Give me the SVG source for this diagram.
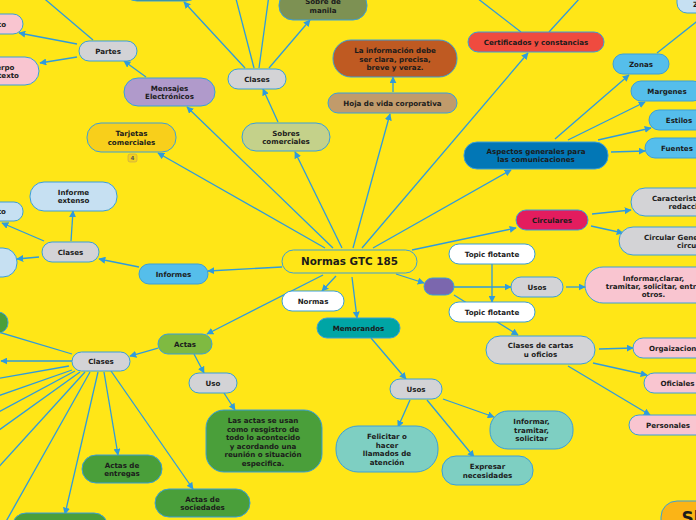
<svg xmlns="http://www.w3.org/2000/svg" width="696" height="520" viewBox="0 0 696 520">
<defs>
<marker id="a" viewBox="0 0 10 10" refX="9" refY="5" markerWidth="7" markerHeight="7" markerUnits="userSpaceOnUse" orient="auto">
<path d="M0,0 L10,5 L0,10 z" fill="#2F9BDC"/>
</marker>
<style>
.c{fill:none;stroke:#2F9BDC;stroke-width:1.3;marker-end:url(#a)}
.l{fill:none;stroke:#2F9BDC;stroke-width:1.3}
rect{stroke:#3A9FDA;stroke-width:1}
text{font-family:"DejaVu Sans",Verdana,sans-serif;font-weight:bold;font-size:7.1px;fill:#1b1b1b;text-anchor:middle}
.e{text-anchor:end}
.s{text-anchor:start}
.g{fill:#D3D3D6}
.pk{fill:#F9C5D0}
.lb{fill:#55BEEB}
.vb{fill:#C6E0F2}
.dg{fill:#4A9F3A}
.tl{fill:#7ECFC2}
.w{fill:#FFFFFF}
</style>
</defs>
<rect x="0" y="0" width="696" height="520" fill="#FFE617" style="stroke:none"/>
<g id="connectors">
<path class="c" d="M325,248 L158,153"/>
<path class="c" d="M333,248 L187,107"/>
<path class="c" d="M342,248 L295,152"/>
<path class="c" d="M353,248 L390,114"/>
<path class="c" d="M362,248 L528,53"/>
<path class="c" d="M373,248 L511,170"/>
<path class="c" d="M412,250 L516,228"/>
<path class="c" d="M396,274 L424,283"/>
<path class="c" d="M352,277 L357,318"/>
<path class="c" d="M336,276 L322,291"/>
<path class="c" d="M323,275 L207,334"/>
<path class="c" d="M282,267 L208,271"/>
<path class="c" d="M139,267 L99,259"/>
<path class="c" d="M71,241 L73,211"/>
<path class="c" d="M44,241 L2,223"/>
<path class="c" d="M39,257 L17,259"/>
<path class="c" d="M146,77 L124,61"/>
<path class="c" d="M77,44 L19,33"/>
<path class="c" d="M77,57 L40,63"/>
<path class="l" d="M93,40 L40,-5"/>
<path class="c" d="M278,122 L263,89"/>
<path class="c" d="M269,68 L310,20"/>
<path class="l" d="M254,68 L235,-5"/>
<path class="l" d="M259,68 L269,-5"/>
<path class="c" d="M245,68 L184,2"/>
<path class="c" d="M393,92 L393,77"/>
<path class="l" d="M521,32 L477,-2"/>
<path class="l" d="M549,32 L580,-2"/>
<path class="c" d="M555,139 L629,75"/>
<path class="c" d="M568,140 L645,102"/>
<path class="c" d="M598,140 L651,128"/>
<path class="c" d="M611,152 L645,151"/>
<path class="l" d="M657,53 L700,19"/>
<path class="c" d="M592,214 L631,210"/>
<path class="c" d="M591,226 L623,233"/>
<path class="c" d="M454,287 L511,287"/>
<path class="c" d="M454,295 L518,335"/>
<path class="c" d="M492,264 L492,302"/>
<path class="c" d="M566,287 L585,287"/>
<path class="c" d="M599,349 L633,348"/>
<path class="c" d="M593,363 L647,375"/>
<path class="c" d="M568,366 L650,415"/>
<path class="c" d="M371,338 L406,379"/>
<path class="c" d="M410,400 L398,427"/>
<path class="c" d="M443,399 L494,417"/>
<path class="c" d="M427,400 L474,457"/>
<path class="c" d="M158,348 L130,356"/>
<path class="c" d="M194,354 L204,373"/>
<path class="c" d="M224,393 L235,410"/>
<path class="c" d="M104,372 L118,455"/>
<path class="c" d="M111,371 L193,489"/>
<path class="c" d="M98,372 L65,514"/>
<path class="c" d="M72,361 L1,361"/>
<path class="l" d="M72,354 L-5,331"/>
<path class="l" d="M69,366 L-5,379"/>
<path class="l" d="M72,370 L-5,397"/>
<path class="l" d="M75,371 L-5,414"/>
<path class="l" d="M80,372 L-5,433"/>
<path class="l" d="M85,372 L-5,471"/>
<path class="l" d="M90,372 L4,525"/>
</g>
<g id="n-top-dark"><rect x="123" y="-30" width="77" height="31" rx="14" fill="#3E8B78"/></g>
<g id="n-sobre-manila"><rect x="279" y="-9" width="88" height="29" rx="14" fill="#7D9153"/><text x="323" y="4.3">Sobre de<tspan x="323" dy="8.6">manila</tspan></text></g>
<g id="n-z"><rect x="677" y="-10" width="60" height="23" rx="10" class="vb"/><text x="693" y="7" class="s">Z</text></g>
<g id="n-asunto"><rect x="-40" y="14" width="63" height="20" rx="10" class="pk"/><text x="6" y="26.6" class="e">Asunto</text></g>
<g id="n-cuerpo"><rect x="-43" y="57" width="82" height="28" rx="14" class="pk"/><text x="14.5" y="70.3" class="e">Cuerpo</text><text x="19" y="78" class="e">del texto</text></g>
<g id="n-partes"><rect x="79" y="41" width="58" height="20" rx="10" class="g"/><text x="108" y="53.6">Partes</text></g>
<g id="n-mensajes"><rect x="124" y="78" width="91" height="28" rx="14" fill="#B09ACB"/><text x="169.5" y="91">Mensajes<tspan x="169.5" dy="8.4">Electrónicos</tspan></text></g>
<g id="n-tarjetas"><rect x="87" y="123" width="89" height="29" rx="14" fill="#F8CF1B"/><text x="131.5" y="136">Tarjetas<tspan x="131.5" dy="8.6">comerciales</tspan></text>
<rect x="128" y="154" width="9" height="8" rx="2" fill="#F3D21E" style="stroke:#C8A850;stroke-width:0.7"/><text x="132.5" y="160.3" style="font-size:5.5px;fill:#555">4</text></g>
<g id="n-clases-sobres"><rect x="228" y="69" width="58" height="20" rx="10" class="g"/><text x="257" y="81.6">Clases</text></g>
<g id="n-sobres"><rect x="242" y="123" width="88" height="28" rx="14" fill="#C4D18A"/><text x="286" y="136">Sobres<tspan x="286" dy="8.3">comerciales</tspan></text></g>
<g id="n-info-clara"><rect x="333" y="40" width="124" height="37" rx="18" fill="#BF5A22"/><text x="395" y="53.3">La información debe<tspan x="395" dy="8.4">ser clara, precisa,</tspan><tspan x="395" dy="8.6">breve y veraz.</tspan></text></g>
<g id="n-hoja"><rect x="328" y="93" width="129" height="20" rx="10" fill="#C19B6B"/><text x="392.5" y="105.6">Hoja de vida corporativa</text></g>
<g id="n-certificados"><rect x="468" y="32" width="136" height="20" rx="10" fill="#EF4B3F"/><text x="536" y="44.6">Certificados y constancias</text></g>
<g id="n-aspectos"><rect x="464" y="142" width="144" height="27" rx="13" fill="#0277B6"/><text x="536" y="154.3">Aspectos generales para<tspan x="536" dy="7.7">las comunicaciones</tspan></text></g>
<g id="n-zonas"><rect x="613" y="54" width="56" height="20" rx="10" class="lb"/><text x="641" y="66.6">Zonas</text></g>
<g id="n-margenes"><rect x="631" y="81" width="72" height="20" rx="10" class="lb"/><text x="667" y="93.6">Margenes</text></g>
<g id="n-estilos"><rect x="649" y="110" width="60" height="20" rx="10" class="lb"/><text x="679" y="122.6">Estilos</text></g>
<g id="n-fuentes"><rect x="645" y="138" width="64" height="20" rx="10" class="lb"/><text x="677" y="150.6">Fuentes</text></g>
<g id="n-informe-extenso"><rect x="30" y="182" width="87" height="29" rx="14" class="vb"/><text x="73.5" y="195.3">Informe<tspan x="73.5" dy="8">extenso</tspan></text></g>
<g id="n-informe-corto"><rect x="-60" y="202" width="83" height="19" rx="9" class="vb"/><text x="6" y="214.3" class="e">Informe corto</text></g>
<g id="n-informe-left"><rect x="-40" y="248" width="57" height="29" rx="14" class="vb"/></g>
<g id="n-clases-informes"><rect x="42" y="242" width="57" height="20" rx="10" class="g"/><text x="70.5" y="254.6">Clases</text></g>
<g id="n-informes"><rect x="139" y="264" width="69" height="20" rx="10" class="lb"/><text x="173.5" y="276.8">Informes</text></g>
<g id="n-central"><rect x="282" y="250" width="135" height="23" rx="11.5" fill="#FFE617"/><text x="349.5" y="265.4" style="font-size:10.4px">Normas GTC 185</text></g>
<g id="n-normas"><rect x="282" y="291" width="62" height="20" rx="10" class="w"/><text x="313" y="303.6">Normas</text></g>
<g id="n-memorandos"><rect x="317" y="318" width="83" height="20" rx="10" fill="#00A5A5"/><text x="358.5" y="330.6">Memorandos</text></g>
<g id="n-purple"><rect x="424" y="278" width="30" height="17" rx="8.5" fill="#7B67AE"/></g>
<g id="n-circulares"><rect x="516" y="210" width="72" height="20" rx="10" fill="#E31C5E"/><text x="552" y="222.6">Circulares</text></g>
<g id="n-caract"><rect x="631" y="188" width="118" height="28" rx="14" class="g"/><text x="688" y="201">Caracteristicas de<tspan x="688" dy="8.3">redacción</tspan></text></g>
<g id="n-circgen"><rect x="619" y="227" width="142" height="28" rx="14" class="g"/><text x="644" y="240.3" class="s">Circular General y</text><text x="677" y="248.3" class="s">circular</text></g>
<g id="n-topic1"><rect x="449" y="244" width="86" height="20" rx="10" class="w"/><text x="492" y="256.6">Topic flotante</text></g>
<g id="n-topic2"><rect x="449" y="302" width="86" height="20" rx="10" class="w"/><text x="492" y="314.6">Topic flotante</text></g>
<g id="n-usos-r"><rect x="511" y="277" width="52" height="20" rx="10" class="g"/><text x="537" y="289.6">Usos</text></g>
<g id="n-informar-clarar"><rect x="585" y="267" width="137" height="36" rx="18" class="pk"/><text x="653.5" y="281">Informar,clarar,<tspan x="653.5" dy="7.7">tramitar, solicitar, entre</tspan><tspan x="653.5" dy="8.3">otros.</tspan></text></g>
<g id="n-clases-cartas"><rect x="486" y="336" width="109" height="28" rx="14" class="g"/><text x="540.5" y="348.3">Clases de cartas<tspan x="540.5" dy="8.7">u oficios</tspan></text></g>
<g id="n-org"><rect x="633" y="338" width="110" height="20" rx="10" class="pk"/><text x="649" y="351" class="s">Orgaizaciones</text></g>
<g id="n-oficiales"><rect x="644" y="373" width="70" height="20" rx="10" class="pk"/><text x="677.5" y="385.6">Oficiales</text></g>
<g id="n-personales"><rect x="629" y="415" width="78" height="20" rx="10" class="pk"/><text x="668" y="427.6">Personales</text></g>
<g id="n-sh"><rect x="661" y="501" width="80" height="40" rx="16" fill="#FBB416"/><text x="681.5" y="524" class="s" style="font-size:17px">Sh</text></g>
<g id="n-usos-m"><rect x="390" y="379" width="52" height="20" rx="10" class="g"/><text x="416" y="391.6">Usos</text></g>
<g id="n-felicitar"><rect x="336" y="426" width="102" height="46" rx="22" class="tl"/><text x="387" y="439.3">Felicitar o<tspan x="387" dy="8.4">hacer</tspan><tspan x="387" dy="8.4">llamados de</tspan><tspan x="387" dy="8.8">atención</tspan></text></g>
<g id="n-informar-tramitar"><rect x="490" y="411" width="83" height="38" rx="18" class="tl"/><text x="531.5" y="424.3">Informar,<tspan x="531.5" dy="8.3">tramitar,</tspan><tspan x="531.5" dy="8.6">solicitar</tspan></text></g>
<g id="n-expresar"><rect x="442" y="456" width="91" height="29" rx="14" class="tl"/><text x="487.5" y="469.3">Expresar<tspan x="487.5" dy="8.7">necesidades</tspan></text></g>
<g id="n-actas"><rect x="158" y="334" width="54" height="20" rx="10" fill="#7FBA41"/><text x="185" y="347">Actas</text></g>
<g id="n-uso"><rect x="189" y="373" width="48" height="20" rx="10" class="g"/><text x="213" y="385.6">Uso</text></g>
<g id="n-las-actas"><rect x="206" y="410" width="116" height="62" rx="18" class="dg"/><text x="263" y="423.3">Las actas se usan<tspan x="263" dy="8.5">como resgistro de</tspan><tspan x="263" dy="8.5">todo lo acontecido</tspan><tspan x="263" dy="8.5">y acordando una</tspan><tspan x="263" dy="8.5">reunión o situación</tspan><tspan x="263" dy="8.5">especifica.</tspan></text></g>
<g id="n-clases-actas"><rect x="72" y="352" width="58" height="19" rx="9.5" class="g"/><text x="101" y="364">Clases</text></g>
<g id="n-actas-entregas"><rect x="82" y="455" width="80" height="28" rx="14" class="dg"/><text x="122" y="468.3">Actas de<tspan x="122" dy="8">entregas</tspan></text></g>
<g id="n-actas-sociedades"><rect x="155" y="489" width="95" height="28" rx="14" class="dg"/><text x="202.5" y="502">Actas de<tspan x="202.5" dy="8">sociedades</tspan></text></g>
<g id="n-actas-bottom"><rect x="12" y="513" width="96" height="30" rx="14" class="dg"/></g>
<g id="n-actas-left"><rect x="-40" y="312" width="48" height="21" rx="10" class="dg"/></g>
</svg>
